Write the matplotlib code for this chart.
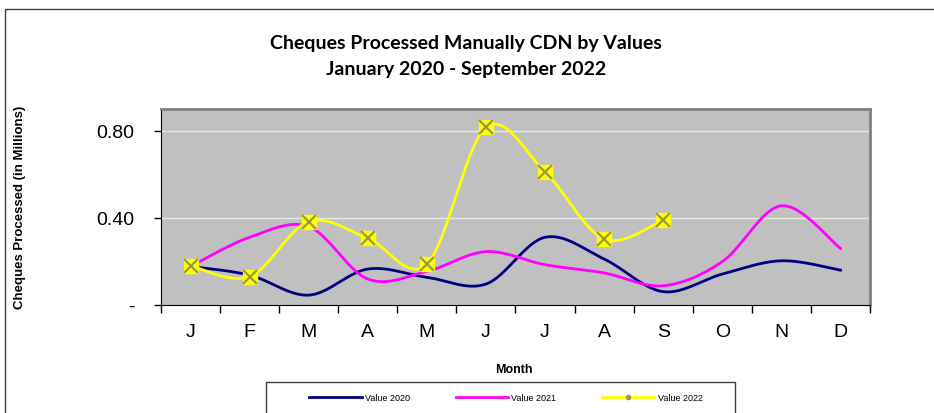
import numpy as np
import matplotlib.pyplot as plt
from matplotlib.lines import Line2D
from matplotlib.patches import Rectangle

# Data (millions of cheques processed)
months = ['J', 'F', 'M', 'A', 'M', 'J', 'J', 'A', 'S', 'O', 'N', 'D']
value_2020 = [0.176, 0.136, 0.044, 0.164, 0.126, 0.095, 0.310, 0.210, 0.060, 0.141, 0.202, 0.159]
value_2021 = [0.176, 0.310, 0.359, 0.118, 0.153, 0.244, 0.184, 0.146, 0.087, 0.198, 0.455, 0.259]
value_2022 = [0.179, 0.129, 0.382, 0.305, 0.187, 0.815, 0.611, 0.302, 0.389]
y_ticks = [0, 0.4, 0.8]
y_ticklabels = ['-', '0.40', '0.80']


def smooth(ys, n=24):
    # Excel-style smoothed line: cubic Bezier through each pair of points
    x = np.arange(len(ys), dtype=float)
    y = np.asarray(ys, dtype=float)
    pts = np.column_stack([x, y])
    out = []
    t = np.linspace(0, 1, n)[:, None]
    for i in range(len(pts) - 1):
        p0 = pts[max(i - 1, 0)]
        p1 = pts[i]
        p2 = pts[i + 1]
        p3 = pts[min(i + 2, len(pts) - 1)]
        c1 = p1 + (p2 - p0) / 6
        c2 = p2 - (p3 - p1) / 6
        seg = ((1 - t) ** 3) * p1 + 3 * ((1 - t) ** 2) * t * c1 + 3 * (1 - t) * t ** 2 * c2 + t ** 3 * p2
        out.append(seg if i == 0 else seg[1:])
    out = np.vstack(out)
    return out[:, 0], out[:, 1]


fig = plt.figure(figsize=(9.34, 4.14), dpi=100)
ax = fig.add_axes([161 / 934, 1 - 305.7 / 414, 709 / 934, 195.7 / 414])
ax.set_facecolor('#c0c0c0')

# outer chart border
fig.patches.append(Rectangle((5 / 934, -0.1), 1.2, 1 - 10 / 414 + 0.1, transform=fig.transFigure,
                             fill=False, edgecolor='#404040', linewidth=1.0))

for yv in [0.4, 0.8]:
    ax.axhline(yv, color='#e8e8e8', linewidth=1.0, zorder=1)

x, y = smooth(value_2020)
ax.plot(x, y, color='#000080', linewidth=2.0, zorder=3)
x, y = smooth(value_2021)
ax.plot(x, y, color='#ff00ff', linewidth=2.0, zorder=3)
x, y = smooth(value_2022)
ax.plot(x, y, color='#ffff00', linewidth=2.0, zorder=4)
idx = np.arange(len(value_2022))
ax.plot(idx, value_2022, linestyle='none', marker='s', markersize=10.5,
        markerfacecolor='#ffff00', markeredgecolor='#ffff00', zorder=5)
ax.plot(idx, value_2022, linestyle='none', marker='x', markersize=9.5,
        markeredgewidth=1.6, color='#9a9a40', zorder=6)

ax.set_xlim(-0.5, 11.5)
ax.set_ylim(0, 0.9)
ax.set_xticks(np.arange(-0.5, 12, 1))
ax.set_xticklabels([])
ax.set_xticks(np.arange(12), minor=True)
ax.set_xticklabels(months, minor=True, fontsize=14, family='Liberation Sans')
ax.tick_params(axis='x', which='major', direction='out', length=6, width=1, color='black')
ax.tick_params(axis='x', which='minor', length=0, pad=13)
ax.set_yticks(y_ticks)
ax.set_yticklabels(y_ticklabels, fontsize=14, family='Liberation Sans')
ax.tick_params(axis='y', direction='out', length=5, width=1, pad=14)

ax.spines['left'].set_color('black')
ax.spines['bottom'].set_color('black')
ax.spines['top'].set_color('#808080')
ax.spines['right'].set_color('#808080')
ax.spines['top'].set_linewidth(2)
ax.spines['right'].set_linewidth(2)

ax.set_ylabel('Cheques Processed (in Millions)', fontsize=9.5, fontweight='bold',
              family='Liberation Sans')
ax.yaxis.set_label_coords(-161 / 709 + 26 / 709, 0.5)
fig.text(514 / 934, 1 - 370 / 414, 'Month', fontsize=9, fontweight='bold',
         family='Liberation Sans', ha='center', va='center')

fig.text(466 / 934, 1 - 43 / 414, 'Cheques Processed Manually CDN by Values',
         fontsize=14, fontweight='bold', family='Lato', ha='center', va='center')
fig.text(466 / 934, 1 - 70 / 414, 'January 2020 - September 2022',
         fontsize=14, fontweight='bold', family='Lato', ha='center', va='center')

# legend
fig.patches.append(Rectangle((266 / 934, -0.1), (735 - 266) / 934, 0.1 + 1 - 383 / 414,
                             transform=fig.transFigure, fill=False,
                             edgecolor='#404040', linewidth=1.0))
handles = [
    Line2D([], [], color='#000080', linewidth=2.0),
    Line2D([], [], color='#ff00ff', linewidth=2.0),
    Line2D([], [], color='#ffff00', linewidth=2.0, marker='o', markersize=3,
           markerfacecolor='#9a9a40', markeredgecolor='#9a9a40'),
]
fig.legend(handles, ['Value 2020', 'Value 2021', 'Value 2022'], ncol=3,
           loc='center', bbox_to_anchor=(506 / 934, 1 - 399 / 414), frameon=False,
           prop={'family': 'Liberation Sans', 'size': 6.5}, handlelength=5.8,
           columnspacing=5.0, handletextpad=0.4)

fig.savefig('out.png', dpi=100)
